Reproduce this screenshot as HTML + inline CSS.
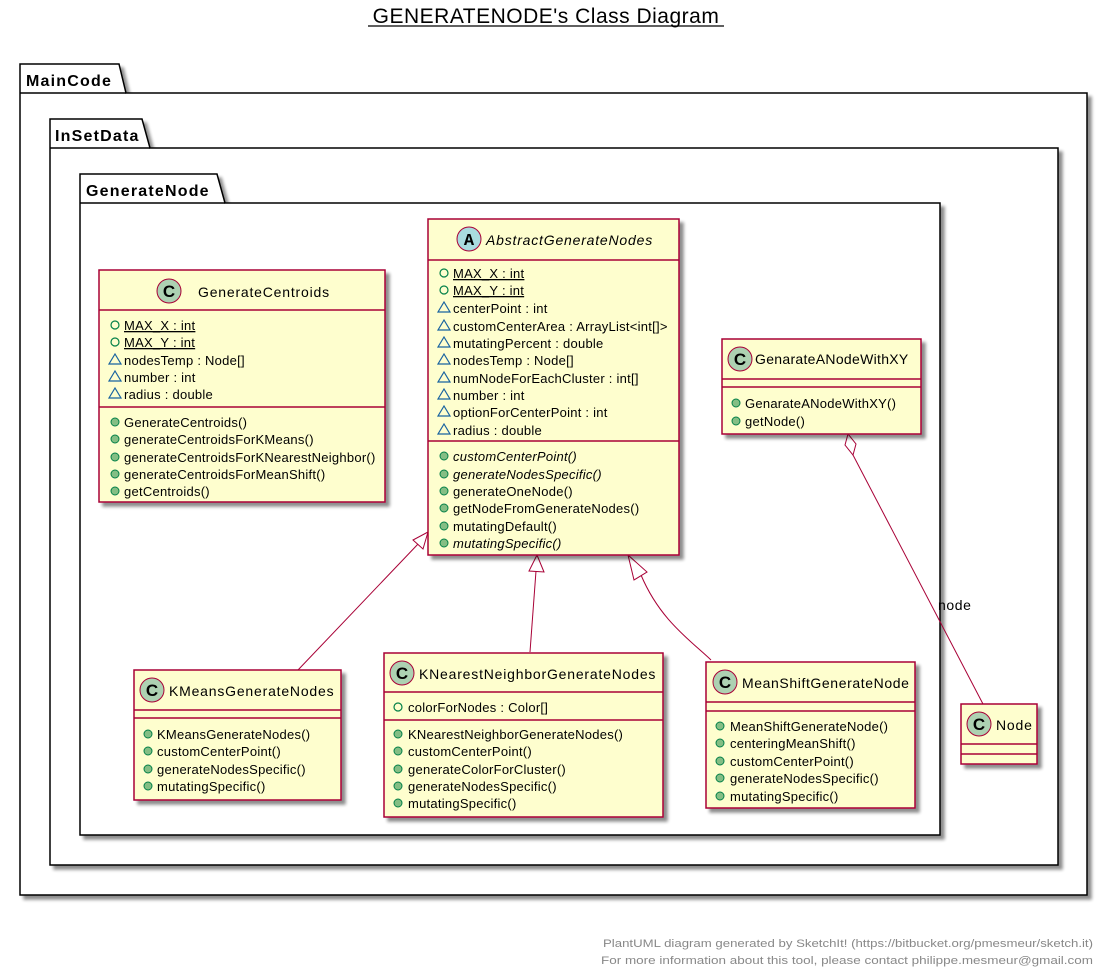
<!DOCTYPE html>
<html><head><meta charset="utf-8"><style>
html,body{margin:0;padding:0;background:#fff;}
svg text{font-family:"Liberation Sans",sans-serif;}
</style></head><body>
<svg width="1107" height="973" viewBox="0 0 1107 973" xmlns="http://www.w3.org/2000/svg">
<defs>
<filter id="sh" x="-5%" y="-5%" width="115%" height="115%"><feGaussianBlur in="SourceAlpha" stdDeviation="1.5"/><feOffset dx="4" dy="4"/><feComponentTransfer><feFuncA type="linear" slope="0.45"/></feComponentTransfer><feMerge><feMergeNode/><feMergeNode in="SourceGraphic"/></feMerge></filter>
</defs>
<rect width="1107" height="973" fill="#fff"/>
<text x="546" y="23" font-size="21" letter-spacing="0.5" text-anchor="middle" fill="#000">GENERATENODE's Class Diagram</text>
<line x1="368" y1="26" x2="724" y2="26" stroke="#000" stroke-width="1.2"/>

<g filter="url(#sh)" fill="#fff" stroke="#000" stroke-width="1.5">
<path d="M20,93 L20,64 L119,64 L126,93 L1087,93 L1087,895 L20,895 Z"/>
<line x1="20" y1="93" x2="126" y2="93"/>
</g>
<g filter="url(#sh)" fill="#fff" stroke="#000" stroke-width="1.5">
<path d="M50,148 L50,119 L142,119 L150,148 L1058,148 L1058,865 L50,865 Z"/>
<line x1="50" y1="148" x2="150" y2="148"/>
</g>
<g filter="url(#sh)" fill="#fff" stroke="#000" stroke-width="1.5">
<path d="M80,203 L80,174 L217,174 L225,203 L940,203 L940,835 L80,835 Z"/>
<line x1="80" y1="203" x2="225" y2="203"/>
</g>
<g font-size="16" font-weight="bold" letter-spacing="1.2">
<text x="26" y="86">MainCode</text>
<text x="55" y="141">InSetData</text>
<text x="86" y="196">GenerateNode</text>
</g>

<g stroke="#A80036" stroke-width="1" fill="none">
<line x1="298" y1="670" x2="419" y2="543"/>
<polygon points="428,532 413,540 423,549" fill="#fff"/>
<line x1="530" y1="652" x2="536" y2="571"/>
<polygon points="537,555 529,571 544,572" fill="#fff"/>
<path d="M711,660 C690,640 660,620 641,575"/>
<polygon points="628,555 634,580 647,572" fill="#fff"/>
<line x1="853" y1="455" x2="983" y2="704"/>
<polygon points="848,434 845,445 853,455 856,444" fill="#fff"/>
</g>
<text x="938" y="610" font-size="14" letter-spacing="0.6">node</text>

<g filter="url(#sh)" fill="#FEFECE" stroke="#A80036" stroke-width="1.5">
<rect x="99" y="270" width="286" height="232"/>
<rect x="428" y="219" width="251" height="336"/>
<rect x="722" y="339" width="199" height="95"/>
<rect x="134" y="670" width="207" height="130"/>
<rect x="384" y="653" width="279" height="164"/>
<rect x="706" y="662" width="209" height="146"/>
<rect x="961" y="704" width="76" height="60"/>
</g>
<g stroke="#A80036" stroke-width="1.5">
<line x1="99" y1="310" x2="385" y2="310"/><line x1="99" y1="407" x2="385" y2="407"/>
<line x1="428" y1="260" x2="679" y2="260"/><line x1="428" y1="441" x2="679" y2="441"/>
<line x1="722" y1="379" x2="921" y2="379"/><line x1="722" y1="387" x2="921" y2="387"/>
<line x1="134" y1="710" x2="341" y2="710"/><line x1="134" y1="718" x2="341" y2="718"/>
<line x1="384" y1="692" x2="663" y2="692"/><line x1="384" y1="720" x2="663" y2="720"/>
<line x1="706" y1="702" x2="915" y2="702"/><line x1="706" y1="711" x2="915" y2="711"/>
<line x1="961" y1="744" x2="1037" y2="744"/><line x1="961" y1="754" x2="1037" y2="754"/>
</g>
<g stroke="#A80036" stroke-width="1">
<circle cx="169" cy="291" r="12" fill="#ADD1B2"/>
<circle cx="469" cy="239" r="12" fill="#A9DCDF"/>
<circle cx="740" cy="359" r="12" fill="#ADD1B2"/>
<circle cx="152" cy="690" r="12" fill="#ADD1B2"/>
<circle cx="402" cy="673" r="12" fill="#ADD1B2"/>
<circle cx="725" cy="682" r="12" fill="#ADD1B2"/>
<circle cx="979" cy="724" r="12" fill="#ADD1B2"/>
</g>
<g font-size="17" font-weight="bold" text-anchor="middle">
<text x="169" y="297">C</text>
<text x="469" y="245" style="font-family:'Liberation Mono'">A</text>
<text x="740" y="365">C</text>
<text x="152" y="696">C</text>
<text x="402" y="679">C</text>
<text x="725" y="688">C</text>
<text x="979" y="730">C</text>
</g>
<g font-size="14" letter-spacing="0.8">
<text x="198" y="297">GenerateCentroids</text>
<text x="486" y="245" font-style="italic">AbstractGenerateNodes</text>
<text x="755" y="364" letter-spacing="0.3">GenarateANodeWithXY</text>
<text x="169" y="696">KMeansGenerateNodes</text>
<text x="419" y="679">KNearestNeighborGenerateNodes</text>
<text x="742" y="688" letter-spacing="0.6">MeanShiftGenerateNode</text>
<text x="996" y="730">Node</text>
</g>

<g fill="none" stroke="#038048" stroke-width="1.2">
<circle cx="115" cy="325" r="4"/><circle cx="115" cy="342" r="4"/>
<circle cx="444" cy="273" r="4"/><circle cx="444" cy="290" r="4"/>
<circle cx="398" cy="707" r="4"/>
</g>
<g fill="none" stroke="#1963A0" stroke-width="1.2">
<polygon points="109,364 121,364 115,354"/><polygon points="109,381 121,381 115,371"/><polygon points="109,398 121,398 115,388"/>
<polygon points="438,312 450,312 444,302"/><polygon points="438,330 450,330 444,320"/><polygon points="438,347 450,347 444,337"/><polygon points="438,364 450,364 444,354"/><polygon points="438,382 450,382 444,372"/><polygon points="438,399 450,399 444,389"/><polygon points="438,416 450,416 444,406"/><polygon points="438,434 450,434 444,424"/>
</g>
<g fill="#84BE84" stroke="#038048" stroke-width="1">
<circle cx="115" cy="422" r="4"/><circle cx="115" cy="439" r="4"/><circle cx="115" cy="457" r="4"/><circle cx="115" cy="474" r="4"/><circle cx="115" cy="491" r="4"/>
<circle cx="444" cy="456" r="4"/><circle cx="444" cy="474" r="4"/><circle cx="444" cy="491" r="4"/><circle cx="444" cy="508" r="4"/><circle cx="444" cy="526" r="4"/><circle cx="444" cy="543" r="4"/>
<circle cx="736" cy="403" r="4"/><circle cx="736" cy="421" r="4"/>
<circle cx="148" cy="734" r="4"/><circle cx="148" cy="751" r="4"/><circle cx="148" cy="769" r="4"/><circle cx="148" cy="786" r="4"/>
<circle cx="398" cy="734" r="4"/><circle cx="398" cy="751" r="4"/><circle cx="398" cy="769" r="4"/><circle cx="398" cy="786" r="4"/><circle cx="398" cy="803" r="4"/>
<circle cx="720" cy="726" r="4"/><circle cx="720" cy="743" r="4"/><circle cx="720" cy="761" r="4"/><circle cx="720" cy="778" r="4"/><circle cx="720" cy="796" r="4"/>
</g>

<g font-size="13" letter-spacing="0.25" fill="#000">
<text x="124" y="330" text-decoration="underline">MAX_X : int</text>
<text x="124" y="347" text-decoration="underline">MAX_Y : int</text>
<text x="124" y="365">nodesTemp : Node[]</text>
<text x="124" y="382">number : int</text>
<text x="124" y="399">radius : double</text>
<text x="124" y="427">GenerateCentroids()</text>
<text x="124" y="444">generateCentroidsForKMeans()</text>
<text x="124" y="462">generateCentroidsForKNearestNeighbor()</text>
<text x="124" y="479">generateCentroidsForMeanShift()</text>
<text x="124" y="496">getCentroids()</text>
<text x="453" y="278" text-decoration="underline">MAX_X : int</text>
<text x="453" y="295" text-decoration="underline">MAX_Y : int</text>
<text x="453" y="313">centerPoint : int</text>
<text x="453" y="331">customCenterArea : ArrayList&lt;int[]&gt;</text>
<text x="453" y="348">mutatingPercent : double</text>
<text x="453" y="365">nodesTemp : Node[]</text>
<text x="453" y="383">numNodeForEachCluster : int[]</text>
<text x="453" y="400">number : int</text>
<text x="453" y="417">optionForCenterPoint : int</text>
<text x="453" y="435">radius : double</text>
<text x="453" y="461" font-style="italic">customCenterPoint()</text>
<text x="453" y="479" font-style="italic">generateNodesSpecific()</text>
<text x="453" y="496">generateOneNode()</text>
<text x="453" y="513">getNodeFromGenerateNodes()</text>
<text x="453" y="531">mutatingDefault()</text>
<text x="453" y="548" font-style="italic">mutatingSpecific()</text>
<text x="745" y="408">GenarateANodeWithXY()</text>
<text x="745" y="426">getNode()</text>
<text x="157" y="739">KMeansGenerateNodes()</text>
<text x="157" y="756">customCenterPoint()</text>
<text x="157" y="774">generateNodesSpecific()</text>
<text x="157" y="791">mutatingSpecific()</text>
<text x="408" y="712">colorForNodes : Color[]</text>
<text x="408" y="739">KNearestNeighborGenerateNodes()</text>
<text x="408" y="756">customCenterPoint()</text>
<text x="408" y="774">generateColorForCluster()</text>
<text x="408" y="791">generateNodesSpecific()</text>
<text x="408" y="808">mutatingSpecific()</text>
<text x="730" y="731">MeanShiftGenerateNode()</text>
<text x="730" y="748">centeringMeanShift()</text>
<text x="730" y="766">customCenterPoint()</text>
<text x="730" y="783">generateNodesSpecific()</text>
<text x="730" y="801">mutatingSpecific()</text>
</g>

<g font-size="11" fill="#888" text-anchor="end">
<text x="1093" y="947" textLength="490" lengthAdjust="spacingAndGlyphs">PlantUML diagram generated by SketchIt! (https://bitbucket.org/pmesmeur/sketch.it)</text>
<text x="1093" y="964" textLength="492" lengthAdjust="spacingAndGlyphs">For more information about this tool, please contact philippe.mesmeur@gmail.com</text>
</g>
</svg>
</body></html>
